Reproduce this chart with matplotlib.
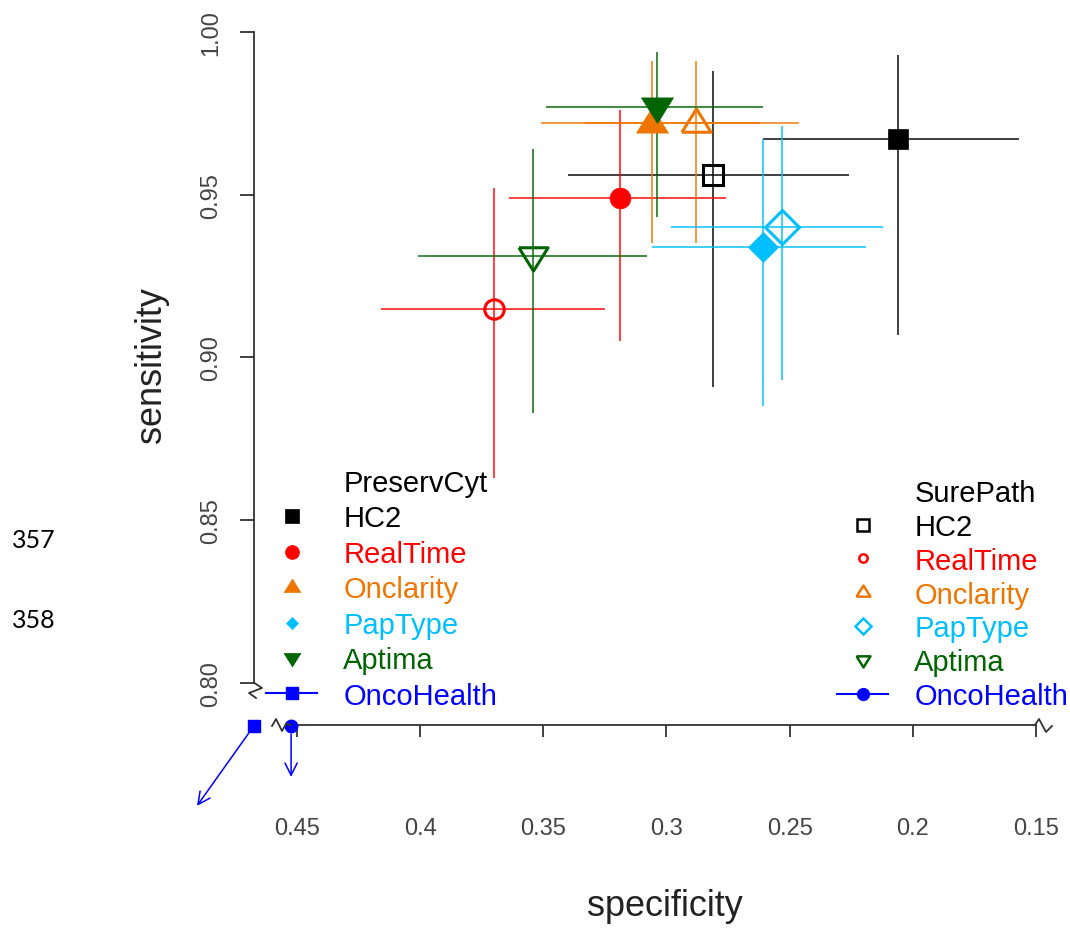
import matplotlib
matplotlib.use("Agg")
import matplotlib.pyplot as plt
from matplotlib.lines import Line2D
from matplotlib.colors import to_rgba

plt.rcParams['font.family'] = ['Liberation Sans', 'DejaVu Sans']

#tests and their colours (same order in both panels)
tests = ["HC2", "RealTime", "Onclarity", "PapType", "Aptima"]
colors = ["black", "#FF0000", "#EE7600", "#00BFFF", "#006400"]

#PreservCyt results (filled symbols)
pc_spec = [0.206, 0.319, 0.306, 0.261, 0.304]
pc_spec_lo = [0.157, 0.276, 0.262, 0.219, 0.261]
pc_spec_hi = [0.261, 0.364, 0.351, 0.306, 0.349]
pc_sens = [0.967, 0.949, 0.972, 0.934, 0.977]
pc_sens_lo = [0.907, 0.905, 0.935, 0.885, 0.943]
pc_sens_hi = [0.993, 0.976, 0.991, 0.967, 0.994]

#SurePath results (open symbols)
sp_spec = [0.281, 0.370, 0.288, 0.253, 0.354]
sp_spec_lo = [0.226, 0.325, 0.246, 0.212, 0.308]
sp_spec_hi = [0.340, 0.416, 0.333, 0.298, 0.401]
sp_sens = [0.956, 0.915, 0.972, 0.940, 0.931]
sp_sens_lo = [0.891, 0.863, 0.935, 0.893, 0.883]
sp_sens_hi = [0.988, 0.952, 0.991, 0.971, 0.964]

#OncoHealth is off the scale, shown at the axis break with arrows
onco_labels = ["PreservCyt", "SurePath"]
onco_spec = [0.4675, 0.4524]
onco_sens = [0.7867, 0.7867]
onco_arrow_spec = [0.4906, 0.4524]
onco_arrow_sens = [0.7621, 0.7710]
onco_markers = ["s", "o"]

x_ticks = [0.45, 0.4, 0.35, 0.3, 0.25, 0.2, 0.15]
x_tick_labels = ["0.45", "0.4", "0.35", "0.3", "0.25", "0.2", "0.15"]
y_ticks = [0.80, 0.85, 0.90, 0.95, 1.00]
y_tick_labels = ["0.80", "0.85", "0.90", "0.95", "1.00"]

W, H = 1070, 929


def px(x, y):
    #pixel position (from top-left) to figure fraction
    return (x / W, 1 - y / H)


tri_up = [(-1, -0.6), (1, -0.6), (0, 1.0), (-1, -0.6)]
tri_down = [(-1, 0.6), (1, 0.6), (0, -1.0), (-1, 0.6)]
pc_markers = ["s", "o", tri_up, "D", tri_down]
pc_sizes = [15, 15, 23, 15, 23]
sp_markers = ["s", "o", tri_up, "D", tri_down]
sp_sizes = [15, 14, 21, 17, 21]

fig = plt.figure(figsize=(W / 100, H / 100), dpi=100)

#axes placed so that 0.45 -> 297px, 0.15 -> 1036px, 1.00 -> 33px, 0.80 -> 684px
xl, xr = 0.48, 0.14
yb, yt = 0.77, 1.01
sx, sy = 2463, 3253
left_px = 297 + (0.45 - xl) * sx
right_px = 297 + (0.45 - xr) * sx
top_px = 33 + (1.00 - yt) * sy
bot_px = 33 + (1.00 - yb) * sy
ax = fig.add_axes([left_px / W, 1 - bot_px / H, (right_px - left_px) / W, (bot_px - top_px) / H])
ax.set_xlim(xl, xr)
ax.set_ylim(yb, yt)

#error bars and points
for i in range(len(tests)):
    c = colors[i]
    ec = to_rgba(c, 0.75)
    ax.errorbar(pc_spec[i], pc_sens[i],
                xerr=[[pc_spec[i] - pc_spec_lo[i]], [pc_spec_hi[i] - pc_spec[i]]],
                yerr=[[pc_sens[i] - pc_sens_lo[i]], [pc_sens_hi[i] - pc_sens[i]]],
                fmt="none", ecolor=ec, elinewidth=1.4, capsize=0, zorder=2)
    ax.errorbar(sp_spec[i], sp_sens[i],
                xerr=[[sp_spec[i] - sp_spec_lo[i]], [sp_spec_hi[i] - sp_spec[i]]],
                yerr=[[sp_sens[i] - sp_sens_lo[i]], [sp_sens_hi[i] - sp_sens[i]]],
                fmt="none", ecolor=ec, elinewidth=1.4, capsize=0, zorder=2)

for i in range(len(tests)):
    ax.plot(pc_spec[i], pc_sens[i], marker=pc_markers[i], ms=pc_sizes[i], color=colors[i],
            mec=colors[i], mfc=colors[i], mew=0.5, linestyle="none", zorder=3)
    ax.plot(sp_spec[i], sp_sens[i], marker=sp_markers[i], ms=sp_sizes[i], color=colors[i],
            mec=colors[i], mfc="none", mew=2.2, linestyle="none", zorder=3)

#OncoHealth off-scale markers
for i in range(len(onco_labels)):
    ax.plot(onco_spec[i], onco_sens[i], marker=onco_markers[i], ms=9, color="blue",
            linestyle="none", clip_on=False, zorder=4)
    ax.annotate("", xy=(onco_arrow_spec[i], onco_arrow_sens[i]), xytext=(onco_spec[i], onco_sens[i]),
                arrowprops=dict(arrowstyle="->", color="blue", lw=1.1, shrinkA=6, shrinkB=0,
                                mutation_scale=22),
                annotation_clip=False)

#axes: only partial spines with breaks
for s in ["top", "right"]:
    ax.spines[s].set_visible(False)
ax.spines["left"].set_position(("data", 0.46726))
ax.spines["left"].set_bounds(0.80, 1.00)
ax.spines["bottom"].set_position(("data", 0.78697))
ax.spines["bottom"].set_bounds(0.4524, 0.15)
for s in ["left", "bottom"]:
    ax.spines[s].set_color("#333333")
    ax.spines[s].set_linewidth(1.3)

ax.set_xticks(x_ticks)
ax.set_xticklabels(x_tick_labels)
ax.set_yticks(y_ticks)
ax.set_yticklabels(y_tick_labels, rotation=90, va="center")
ax.tick_params(axis="x", length=8.5, width=1.3, color="#333333", pad=58,
               labelsize=17, labelcolor="#444444")
ax.tick_params(axis="y", length=10, width=1.3, color="#333333", pad=13,
               labelsize=17, labelcolor="#444444")

#axis break marks
brk_style = dict(color="#333333", lw=1.3, transform=fig.transFigure, clip_on=False)
yb_pts = [px(254.5, 684), px(262, 689), px(249, 694), px(256, 699)]
fig.lines.append(Line2D([p[0] for p in yb_pts], [p[1] for p in yb_pts], **brk_style))
xl_pts = [px(272, 727), px(276, 720), px(282, 732), px(286, 725), px(291, 726)]
fig.lines.append(Line2D([p[0] for p in xl_pts], [p[1] for p in xl_pts], **brk_style))
xr_pts = [px(1035, 726), px(1039, 720), px(1046, 733), px(1052, 727)]
fig.lines.append(Line2D([p[0] for p in xr_pts], [p[1] for p in xr_pts], **brk_style))

#axis titles
fig.text(*px(665, 907), "specificity", fontsize=26, ha="center", va="center", color="#222222")
fig.text(*px(152, 365), "sensitivity", fontsize=26, ha="center", va="center", rotation=90,
         color="#222222")

#line numbers from the manuscript
fig.text(*px(12, 541), "357", fontsize=18, family="Lato", ha="left", va="center", color="black")
fig.text(*px(12, 620), "358", fontsize=18, family="Lato", ha="left", va="center", color="black")

#legends
def legend_handles(markers, sizes, filled, onco_marker):
    hs = [Line2D([], [], linestyle="none", marker=None)]
    for m, s, c in zip(markers, sizes, colors):
        hs.append(Line2D([], [], linestyle="none", marker=m, ms=s, color=c, mec=c,
                         mfc=c if filled else "none", mew=0.5 if filled else 1.8))
    hs.append(Line2D([], [], color="blue", lw=1.5, marker=onco_marker, ms=8.5))
    return hs

leg_colors = ["black"] + colors + ["blue"]

h1 = legend_handles(["s", "o", tri_up, "D", tri_down], [9.5, 10, 12, 6.5, 12], True, "s")
leg1 = ax.legend(h1, ["PreservCyt"] + tests + ["OncoHealth"], loc="upper left",
                 bbox_to_anchor=px(266, 470), bbox_transform=fig.transFigure,
                 frameon=False, fontsize=21, labelspacing=0.255, handlelength=1.75,
                 handletextpad=0.9, borderpad=0, borderaxespad=0, labelcolor=leg_colors)
ax.add_artist(leg1)

h2 = legend_handles(["s", "o", tri_up, "D", tri_down], [9, 6, 10, 8, 10], False, "o")
leg2 = ax.legend(h2, ["SurePath"] + tests + ["OncoHealth"], loc="upper left",
                 bbox_to_anchor=px(837, 480), bbox_transform=fig.transFigure,
                 frameon=False, fontsize=21, labelspacing=0.20, handlelength=1.75,
                 handletextpad=0.9, borderpad=0, borderaxespad=0, labelcolor=leg_colors)

fig.savefig("out.png", dpi=100)
